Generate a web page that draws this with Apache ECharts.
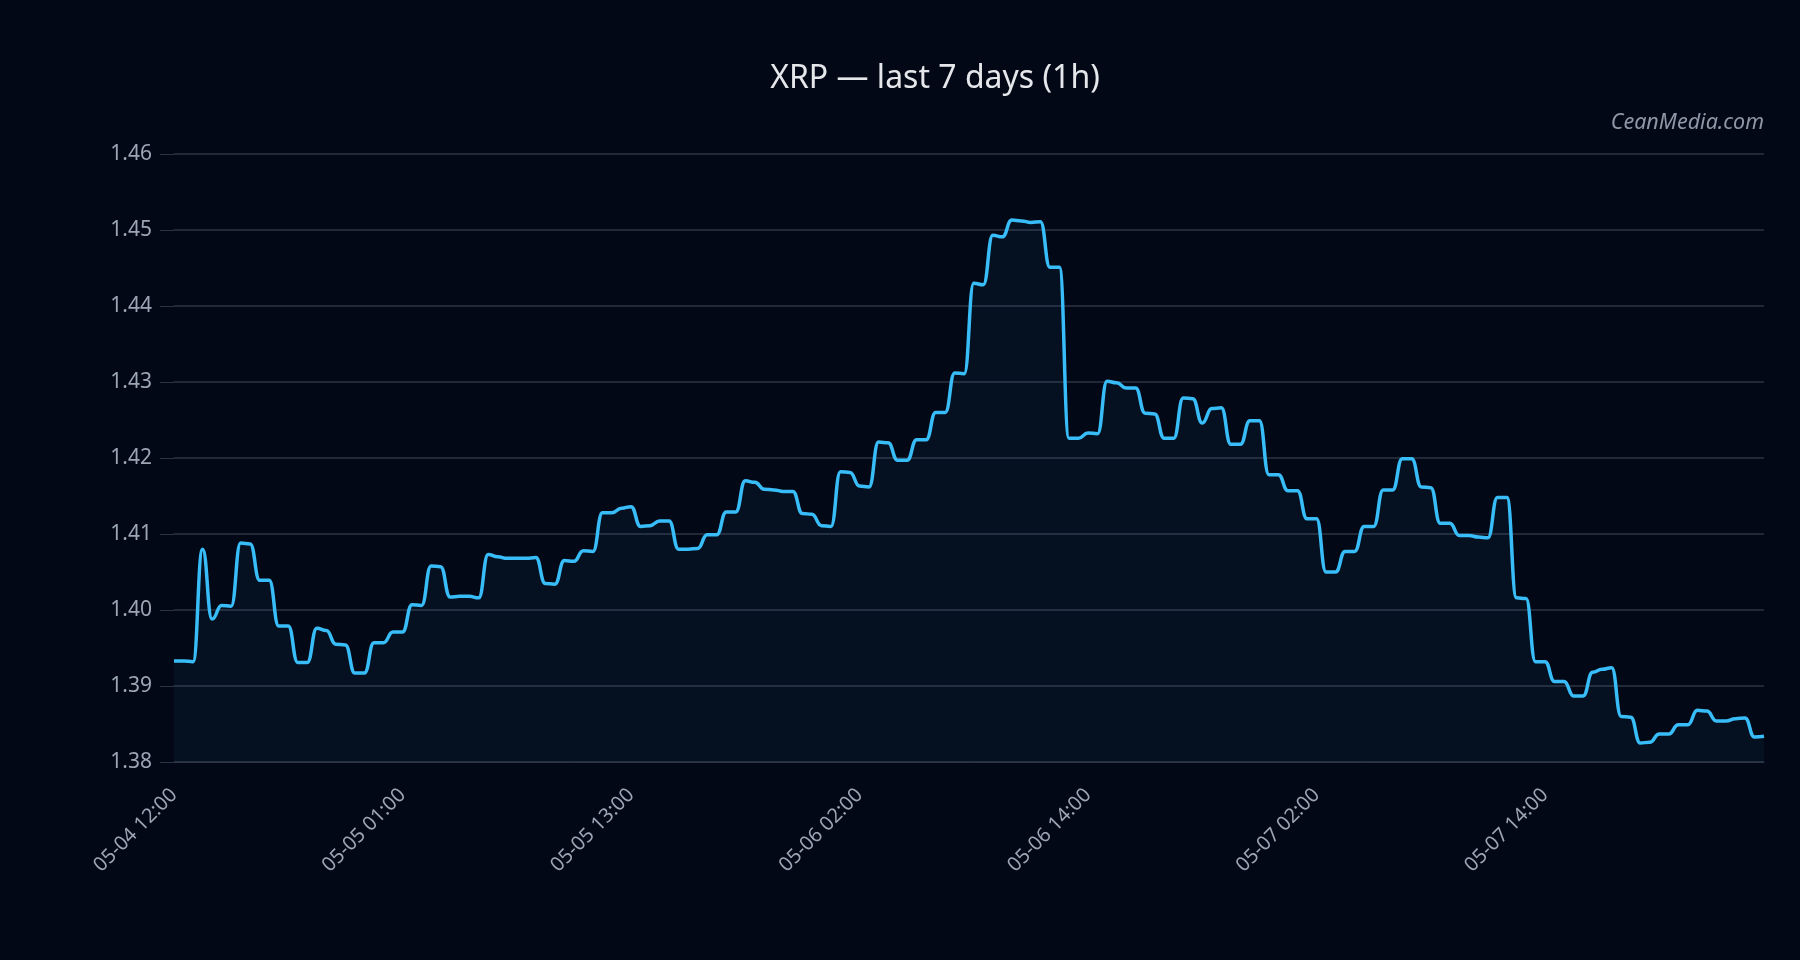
<!DOCTYPE html>
<html>
<head>
<meta charset="utf-8">
<title>XRP — last 7 days (1h)</title>
<script src="https://cdn.jsdelivr.net/npm/echarts@6/dist/echarts.min.js"></script>
<style>
  html, body { margin: 0; padding: 0; background: #030816; }
  #chart { width: 1800px; height: 960px; }
</style>
</head>
<body>
<div id="chart"></div>
<script>
// tick labels shown on the x axis (one every 24 points)
var tickLabels = ['05-04 12:00', '05-05 01:00', '05-05 13:00', '05-06 02:00',
                  '05-06 14:00', '05-07 02:00', '05-07 14:00'];

// price values
var prices = [
  1.3933, 1.3933, 1.3932, 1.4080, 1.3988, 1.4006, 1.4005, 1.4088, 1.4087, 1.4039,
  1.4039, 1.3979, 1.3979, 1.3931, 1.3931, 1.3976, 1.3973, 1.3955, 1.3954, 1.3917,
  1.3917, 1.3957, 1.3957, 1.3971, 1.3971, 1.4007, 1.4006, 1.4058, 1.4057, 1.4017,
  1.4018, 1.4018, 1.4016, 1.4073, 1.4070, 1.4068, 1.4068, 1.4068, 1.4069, 1.4035,
  1.4034, 1.4065, 1.4064, 1.4078, 1.4077, 1.4128, 1.4128, 1.4134, 1.4136, 1.4110,
  1.4111, 1.4117, 1.4117, 1.4080, 1.4080, 1.4081, 1.4099, 1.4099, 1.4129, 1.4129,
  1.4170, 1.4168, 1.4159, 1.4158, 1.4156, 1.4156, 1.4127, 1.4126, 1.4111, 1.4110,
  1.4182, 1.4181, 1.4163, 1.4162, 1.4221, 1.4220, 1.4197, 1.4197, 1.4224, 1.4224,
  1.4260, 1.4260, 1.4312, 1.4311, 1.4430, 1.4428, 1.4493, 1.4491, 1.4513, 1.4512,
  1.4510, 1.4511, 1.4451, 1.4451, 1.4226, 1.4226, 1.4233, 1.4232, 1.4301, 1.4299,
  1.4292, 1.4292, 1.4259, 1.4258, 1.4226, 1.4226, 1.4279, 1.4278, 1.4246, 1.4265,
  1.4266, 1.4218, 1.4218, 1.4249, 1.4249, 1.4178, 1.4178, 1.4157, 1.4157, 1.4120,
  1.4120, 1.4050, 1.4050, 1.4077, 1.4077, 1.4110, 1.4110, 1.4158, 1.4158, 1.4199,
  1.4199, 1.4162, 1.4161, 1.4114, 1.4114, 1.4098, 1.4098, 1.4096, 1.4095, 1.4148,
  1.4148, 1.4016, 1.4015, 1.3932, 1.3932, 1.3906, 1.3906, 1.3887, 1.3887, 1.3918,
  1.3922, 1.3924, 1.3860, 1.3859, 1.3825, 1.3826, 1.3837, 1.3837, 1.3849, 1.3849,
  1.3868, 1.3867, 1.3854, 1.3854, 1.3857, 1.3858, 1.3833, 1.3834
];

var LABEL_STEP = 24;

// category names: each tick label followed by half-hour steps
function pad(n) { return (n < 10 ? '0' : '') + n; }
function stepLabel(label, k) {
  var d = new Date(2025, +label.slice(0, 2) - 1, +label.slice(3, 5),
                   +label.slice(6, 8), +label.slice(9, 11) + k * 30);
  return pad(d.getMonth() + 1) + '-' + pad(d.getDate()) + ' ' +
         pad(d.getHours()) + ':' + pad(d.getMinutes());
}
var categories = prices.map(function (v, i) {
  var block = Math.min(Math.floor(i / LABEL_STEP), tickLabels.length - 1);
  return stepLabel(tickLabels[block], i - block * LABEL_STEP);
});

var gridColor = '#2c3545';
var textColor = '#9ca5b4';
var font = '"Noto Sans", sans-serif';

var myChart = echarts.init(document.getElementById('chart'));
myChart.setOption({
  backgroundColor: '#030816',
  animation: false,
  title: {
    text: 'XRP — last 7 days (1h)',
    left: 930,
    top: 58,
    textAlign: 'center',
    textStyle: { color: '#e5e7eb', fontSize: 32, fontWeight: 'normal', fontFamily: font }
  },
  graphic: [{
    type: 'text',
    right: 36,
    top: 112,
    style: {
      text: 'CeanMedia.com',
      fill: '#8f97a6',
      font: 'italic 21.5px "Noto Sans", sans-serif'
    }
  }],
  grid: { left: 174, right: 36, top: 154, bottom: 198 },
  xAxis: {
    type: 'category',
    boundaryGap: false,
    data: categories,
    axisLine: { lineStyle: { color: gridColor } },
    axisTick: { show: false },
    axisLabel: {
      interval: LABEL_STEP - 1,
      rotate: 45,
      margin: 30,
      color: textColor,
      fontSize: 20,
      fontFamily: font
    },
    splitLine: { show: false }
  },
  yAxis: {
    type: 'value',
    min: 1.38,
    max: 1.46,
    interval: 0.01,
    axisLine: { show: false },
    axisTick: { show: true, length: 14, lineStyle: { color: gridColor } },
    axisLabel: {
      margin: 22,
      color: textColor,
      fontSize: 21,
      fontFamily: font,
      formatter: function (v) { return v.toFixed(2); }
    },
    splitLine: { lineStyle: { color: gridColor, width: 1.5 } }
  },
  series: [{
    name: 'XRP',
    type: 'line',
    data: prices,
    smooth: true,
    smoothMonotone: 'x',
    showSymbol: false,
    lineStyle: { color: '#38bdf8', width: 3.5 },
    itemStyle: { color: '#38bdf8' },
    areaStyle: { color: 'rgba(56,189,248,0.07)' }
  }]
});
</script>
</body>
</html>
